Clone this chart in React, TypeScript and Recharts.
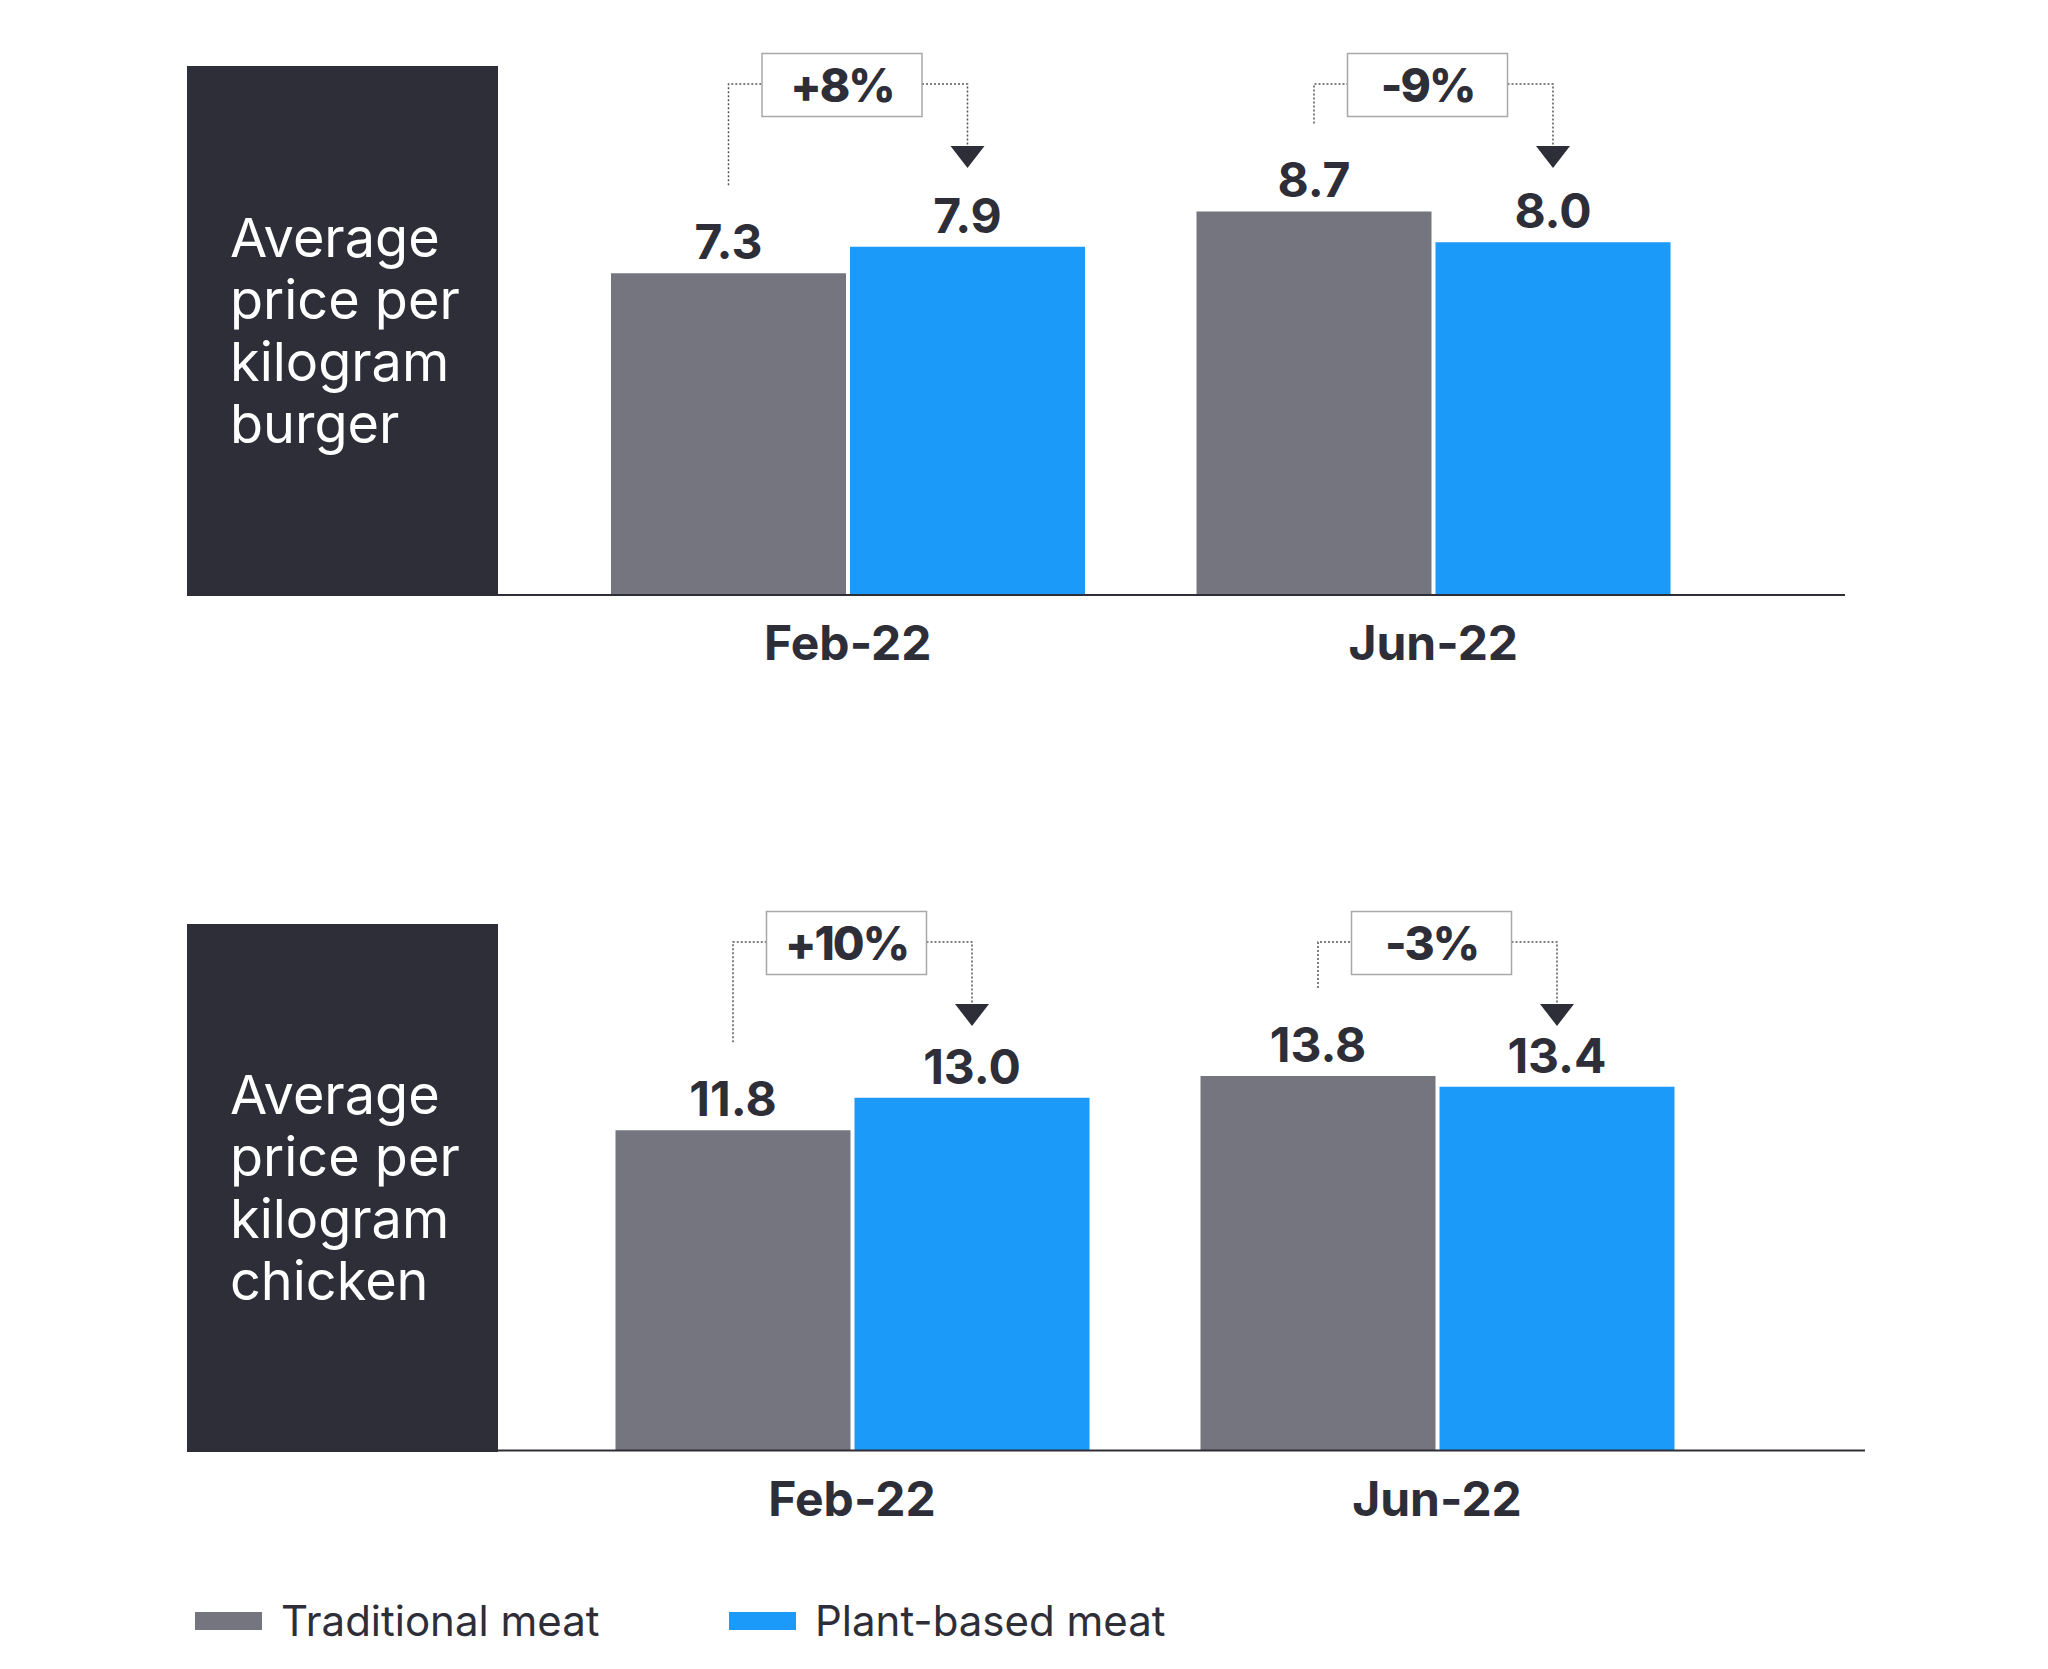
import { Bar, BarChart, XAxis, YAxis } from 'recharts'

const PERIODS = ['Feb-22', 'Jun-22']
const SERIES = ['Traditional meat', 'Plant-based meat']

const BURGER_TITLE = ['Average', 'price per', 'kilogram', 'burger']
const BURGER_TRADITIONAL = [7.3, 8.7]
const BURGER_PLANT = [7.9, 8.0]
const BURGER_CHANGE = ['+8%', '-9%']

const CHICKEN_TITLE = ['Average', 'price per', 'kilogram', 'chicken']
const CHICKEN_TRADITIONAL = [11.8, 13.8]
const CHICKEN_PLANT = [13.0, 13.4]
const CHICKEN_CHANGE = ['+10%', '-3%']

const DARK = '#2e2e38'
const GREY = '#75757f'
const BLUE = '#1b9af9'
const FONT = 'Inter, "Noto Sans", sans-serif'
const W = 2048
const BAR_GAP = 4
const AXIS_H = 80

function valueLabel(p: any) {
  const vb = p.viewBox ?? p
  return (
    <text x={vb.x + vb.width / 2} y={vb.y - 14} textAnchor="middle" fill={DARK}
      fontFamily={FONT} fontSize={48} fontWeight={650}>
      {Number(p.value).toFixed(1)}
    </text>
  )
}

// plant-based label also draws the dotted bracket + change box from the traditional bar
function makePlantLabel(trad: number[], plant: number[], change: string[], plotTop: number) {
  return (p: any) => {
    const vb = p.viewBox ?? p
    const { x, y, width, height } = vb
    const v = Number(p.value)
    const i = p.index ?? plant.indexOf(v)
    const base = y + height
    const greyTop = base - trad[i] * (height / v)
    const gx = x - BAR_GAP - width / 2
    const cx = x + width / 2
    const by = plotTop + 18
    const mid = (gx + cx) / 2 - 6
    const bw = 160, bh = 63
    const legEnd = Math.max(by + bh / 2, greyTop - 88)
    const tip = by + 84
    const dot = { stroke: '#555', strokeWidth: 1.5, strokeDasharray: '2 2', fill: 'none' }
    return (
      <g>
        <text x={cx} y={y - 14} textAnchor="middle" fill={DARK}
          fontFamily={FONT} fontSize={48} fontWeight={650}>{v.toFixed(1)}</text>
        <path d={`M${gx},${legEnd} V${by} H${mid - bw / 2}`} {...dot} />
        <path d={`M${mid + bw / 2},${by} H${cx} V${tip - 22}`} {...dot} />
        <path d={`M${cx - 17},${tip - 22} L${cx + 17},${tip - 22} L${cx},${tip} Z`} fill={DARK} />
        <rect x={mid - bw / 2} y={by + 1 - bh / 2} width={bw} height={bh} fill="#fff"
          stroke="#a8a8a8" strokeWidth={1.5} />
        <text x={mid} y={by + 18} textAnchor="middle" fill={DARK} letterSpacing={-2}
          fontFamily={FONT} fontSize={46} fontWeight={800}>{change[i]}</text>
      </g>
    )
  }
}

function tick(p: any) {
  return (
    <text x={p.x} y={p.y + 65} textAnchor="middle" fill={DARK}
      fontFamily={FONT} fontSize={48} fontWeight={700}>{p.payload.value}</text>
  )
}

interface PanelProps {
  title: string[]; trad: number[]; plant: number[]; change: string[]; yMax: number
  top: number; plotTop: number; plotBottom: number; plotRight: number
  pad: { left: number; right: number }
}

function Panel({ title, trad, plant, change, yMax, top, plotTop, plotBottom, plotRight, pad }: PanelProps) {
  const data = PERIODS.map((period, i) => ({ period, trad: trad[i], plant: plant[i] }))
  const height = plotBottom + AXIS_H + 10
  return (
    <div style={{ position: 'absolute', left: 0, top, width: W, height }}>
      <BarChart width={W} height={height} data={data} barCategoryGap={56} barGap={BAR_GAP}
        margin={{ top: plotTop, right: W - plotRight, left: 498, bottom: height - plotBottom - AXIS_H }}>
        <YAxis hide domain={[0, yMax]} />
        <XAxis dataKey="period" height={AXIS_H} padding={pad} tickLine={false} tickSize={0} tickMargin={0}
          axisLine={{ stroke: DARK, strokeWidth: 2 }} tick={tick} interval={0} />
        <Bar dataKey="trad" fill={GREY} isAnimationActive={false} label={valueLabel} />
        <Bar dataKey="plant" fill={BLUE} isAnimationActive={false}
          label={makePlantLabel(trad, plant, change, plotTop)} />
      </BarChart>
      <div style={{
        position: 'absolute', left: 187, top: plotTop, width: 311, height: plotBottom - plotTop + 1,
        background: DARK, display: 'flex', alignItems: 'center', zIndex: 1,
      }}>
        <div style={{ paddingLeft: 43, color: '#fff', fontFamily: FONT, fontSize: 54, lineHeight: '62px' }}>
          {title.map(l => <div key={l}>{l}</div>)}
        </div>
      </div>
    </div>
  )
}

function Legend() {
  const colors = [GREY, BLUE]
  const lefts = [195, 729]
  return (
    <>
      {SERIES.map((s, i) => (
        <div key={s} style={{ position: 'absolute', left: lefts[i], top: 1596, height: 50, display: 'flex', alignItems: 'center' }}>
          <div style={{ width: 67, height: 18, background: colors[i], marginRight: 19 }} />
          <span style={{ fontFamily: FONT, fontSize: 42, lineHeight: '50px', color: DARK }}>{s}</span>
        </div>
      ))}
    </>
  )
}

export default function App() {
  return (
    <div style={{ position: 'absolute', left: 0, top: 0, width: W, height: 1669, background: '#fff', overflow: 'hidden' }}>
      <Panel title={BURGER_TITLE} trad={BURGER_TRADITIONAL} plant={BURGER_PLANT} change={BURGER_CHANGE}
        yMax={12} top={0} plotTop={66} plotBottom={595} plotRight={1845} pad={{ left: 57, right: 119 }} />
      <Panel title={CHICKEN_TITLE} trad={CHICKEN_TRADITIONAL} plant={CHICKEN_PLANT} change={CHICKEN_CHANGE}
        yMax={19.4} top={850} plotTop={74} plotBottom={600.5} plotRight={1865} pad={{ left: 61.5, right: 135.5 }} />
      <Legend />
    </div>
  )
}
